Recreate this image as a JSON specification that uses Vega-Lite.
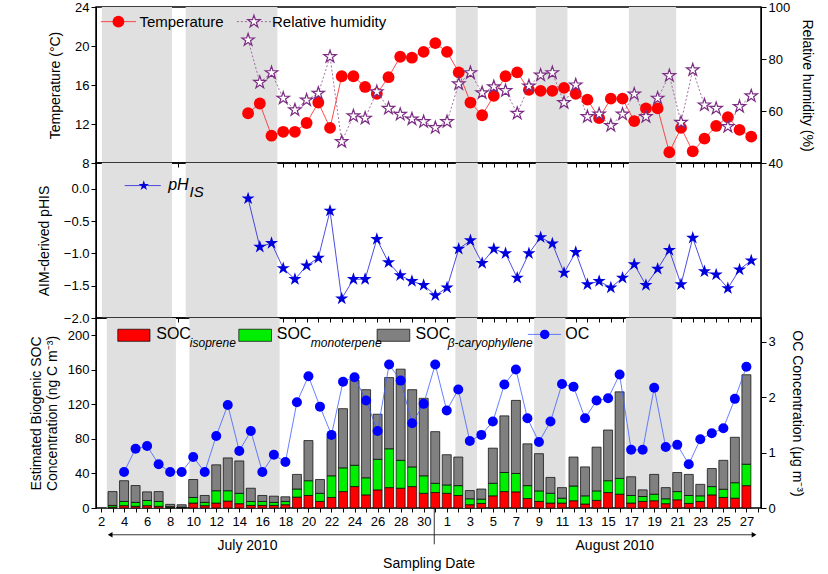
{
  "$schema": "https://vega.github.io/schema/vega-lite/v6.json",
  "background": "white",
  "padding": {"left": 28, "top": 0, "right": 5, "bottom": 0},
  "spacing": 0,
  "bounds": "flush",
  "config": {
    "font": "Liberation Sans",
    "view": {"stroke": "black", "strokeWidth": 1.5},
    "axis": {"labelFontSize": 13, "titleFontSize": 14, "titleFontWeight": "normal", "labelColor": "black", "titleColor": "black", "domainColor": "black", "tickColor": "black", "grid": false, "labelFont": "Liberation Sans", "titleFont": "Liberation Sans", "labelOverlap": false}
  },
  "datasets": {
    "shade": [
      {"start": "2010-07-02T12:00Z", "end": "2010-07-08T12:00Z"},
      {"start": "2010-07-09T16:00Z", "end": "2010-07-17T12:00Z"},
      {"start": "2010-08-01T18:00Z", "end": "2010-08-03T15:00Z"},
      {"start": "2010-08-08T14:00Z", "end": "2010-08-11T07:00Z"},
      {"start": "2010-08-16T13:00Z", "end": "2010-08-20T14:00Z"}
    ],
    "main": [
      {"date": "2010-07-03", "iso": 1, "mono": 2, "bc": 16, "oc": null, "temp": null, "rh": null, "ph": null},
      {"date": "2010-07-04", "iso": 2.7, "mono": 4.9, "bc": 24, "oc": 0.65, "temp": null, "rh": null, "ph": null},
      {"date": "2010-07-05", "iso": 2, "mono": 4.5, "bc": 19.5, "oc": 1.07, "temp": null, "rh": null, "ph": null},
      {"date": "2010-07-06", "iso": 2.7, "mono": 6, "bc": 10, "oc": 1.12, "temp": null, "rh": null, "ph": null},
      {"date": "2010-07-07", "iso": 2, "mono": 5.6, "bc": 11.4, "oc": 0.79, "temp": null, "rh": null, "ph": null},
      {"date": "2010-07-08", "iso": 0.8, "mono": 0.7, "bc": 2.7, "oc": 0.65, "temp": null, "rh": null, "ph": null},
      {"date": "2010-07-09", "iso": 0.5, "mono": 0.5, "bc": 2.8, "oc": 0.65, "temp": null, "rh": null, "ph": null},
      {"date": "2010-07-10", "iso": 5.7, "mono": 6.5, "bc": 20.8, "oc": 0.92, "temp": null, "rh": null, "ph": null},
      {"date": "2010-07-11", "iso": 2.7, "mono": 3.8, "bc": 8, "oc": 0.65, "temp": null, "rh": null, "ph": null},
      {"date": "2010-07-12", "iso": 5.7, "mono": 14.3, "bc": 30, "oc": 1.30, "temp": null, "rh": null, "ph": null},
      {"date": "2010-07-13", "iso": 8, "mono": 12, "bc": 38, "oc": 1.86, "temp": null, "rh": null, "ph": null},
      {"date": "2010-07-14", "iso": 5, "mono": 12, "bc": 37.5, "oc": 1.03, "temp": null, "rh": null, "ph": null},
      {"date": "2010-07-15", "iso": 3, "mono": 4.6, "bc": 15.3, "oc": 1.39, "temp": 13.1, "rh": 87.3, "ph": -0.15},
      {"date": "2010-07-16", "iso": 3, "mono": 4.6, "bc": 6.9, "oc": 0.65, "temp": 14.1, "rh": 71.0, "ph": -0.90},
      {"date": "2010-07-17", "iso": 3, "mono": 3.5, "bc": 7.2, "oc": 0.96, "temp": 10.8, "rh": 74.7, "ph": -0.84},
      {"date": "2010-07-18", "iso": 3.8, "mono": 3.8, "bc": 5.4, "oc": 0.83, "temp": 11.2, "rh": 64.9, "ph": -1.23},
      {"date": "2010-07-19", "iso": 12.6, "mono": 9.4, "bc": 16.9, "oc": 1.91, "temp": 11.2, "rh": 60.4, "ph": -1.40},
      {"date": "2010-07-20", "iso": 14.5, "mono": 17.1, "bc": 46.5, "oc": 2.38, "temp": 12.1, "rh": 64.2, "ph": -1.19},
      {"date": "2010-07-21", "iso": 7.6, "mono": 9.4, "bc": 16, "oc": 1.83, "temp": 14.2, "rh": 66.8, "ph": -1.07},
      {"date": "2010-07-22", "iso": 12.2, "mono": 25.1, "bc": 45.4, "oc": 1.32, "temp": 11.6, "rh": 80.9, "ph": -0.34},
      {"date": "2010-07-23", "iso": 19, "mono": 27.5, "bc": 68.5, "oc": 2.28, "temp": 16.9, "rh": 48.2, "ph": -1.70},
      {"date": "2010-07-24", "iso": 24.8, "mono": 24.7, "bc": 98.3, "oc": 2.36, "temp": 16.9, "rh": 58.1, "ph": -1.40},
      {"date": "2010-07-25", "iso": 15.2, "mono": 19.8, "bc": 102, "oc": 1.94, "temp": 15.8, "rh": 57.2, "ph": -1.40},
      {"date": "2010-07-26", "iso": 21, "mono": 35.4, "bc": 52.2, "oc": 1.39, "temp": 15.1, "rh": 67.4, "ph": -0.78},
      {"date": "2010-07-27", "iso": 23.6, "mono": 45, "bc": 82.4, "oc": 2.59, "temp": 16.8, "rh": 61.0, "ph": -1.14},
      {"date": "2010-07-28", "iso": 22.9, "mono": 32.3, "bc": 105.6, "oc": 2.30, "temp": 18.9, "rh": 58.7, "ph": -1.34},
      {"date": "2010-07-29", "iso": 24.8, "mono": 22.8, "bc": 89.4, "oc": 1.53, "temp": 18.8, "rh": 56.9, "ph": -1.43},
      {"date": "2010-07-30", "iso": 17, "mono": 20.3, "bc": 89.7, "oc": 1.88, "temp": 19.4, "rh": 55.9, "ph": -1.49},
      {"date": "2010-07-31", "iso": 17.9, "mono": 10.7, "bc": 59.8, "oc": 2.59, "temp": 20.3, "rh": 53.6, "ph": -1.65},
      {"date": "2010-08-01", "iso": 17, "mono": 9.7, "bc": 35, "oc": 1.76, "temp": 19.4, "rh": 55.9, "ph": -1.53},
      {"date": "2010-08-02", "iso": 14.5, "mono": 11.4, "bc": 33.1, "oc": 2.14, "temp": 17.3, "rh": 70.4, "ph": -0.93},
      {"date": "2010-08-03", "iso": 3.8, "mono": 6.9, "bc": 9.5, "oc": 1.21, "temp": 14.2, "rh": 74.7, "ph": -0.80},
      {"date": "2010-08-04", "iso": 5.3, "mono": 5, "bc": 11.7, "oc": 1.32, "temp": 12.9, "rh": 67.0, "ph": -1.15},
      {"date": "2010-08-05", "iso": 14.1, "mono": 14.5, "bc": 40.7, "oc": 1.56, "temp": 14.9, "rh": 69.3, "ph": -0.93},
      {"date": "2010-08-06", "iso": 19, "mono": 22.1, "bc": 65.6, "oc": 2.23, "temp": 16.9, "rh": 67.8, "ph": -1.0},
      {"date": "2010-08-07", "iso": 18.7, "mono": 21.3, "bc": 84.6, "oc": 2.50, "temp": 17.3, "rh": 59.1, "ph": -1.38},
      {"date": "2010-08-08", "iso": 11, "mono": 14.9, "bc": 48.4, "oc": 1.62, "temp": 15.5, "rh": 69.6, "ph": -1.0},
      {"date": "2010-08-09", "iso": 7.6, "mono": 12.2, "bc": 43.1, "oc": 1.19, "temp": 15.4, "rh": 73.8, "ph": -0.75},
      {"date": "2010-08-10", "iso": 5.7, "mono": 11.4, "bc": 18.3, "oc": 1.56, "temp": 15.4, "rh": 74.7, "ph": -0.85},
      {"date": "2010-08-11", "iso": 5.7, "mono": 5.7, "bc": 12.2, "oc": 2.24, "temp": 15.7, "rh": 63.2, "ph": -1.30},
      {"date": "2010-08-12", "iso": 8.4, "mono": 17.1, "bc": 33.5, "oc": 2.19, "temp": 15.1, "rh": 70.0, "ph": -0.98},
      {"date": "2010-08-13", "iso": 4.6, "mono": 9.5, "bc": 33.5, "oc": 1.62, "temp": 14.5, "rh": 57.8, "ph": -1.48},
      {"date": "2010-08-14", "iso": 8.8, "mono": 11, "bc": 50.7, "oc": 1.94, "temp": 12.6, "rh": 58.8, "ph": -1.43},
      {"date": "2010-08-15", "iso": 17.9, "mono": 13.7, "bc": 58.7, "oc": 1.98, "temp": 14.6, "rh": 54.4, "ph": -1.53},
      {"date": "2010-08-16", "iso": 16, "mono": 18.3, "bc": 100.2, "oc": 2.41, "temp": 14.6, "rh": 58.8, "ph": -1.38},
      {"date": "2010-08-17", "iso": 5.7, "mono": 8.8, "bc": 21.7, "oc": 1.05, "temp": 12.3, "rh": 66.5, "ph": -1.17},
      {"date": "2010-08-18", "iso": 7.6, "mono": 5.7, "bc": 7.7, "oc": 1.05, "temp": 13.6, "rh": 57.8, "ph": -1.49},
      {"date": "2010-08-19", "iso": 8.4, "mono": 7.6, "bc": 22.9, "oc": 2.17, "temp": 13.6, "rh": 64.9, "ph": -1.24},
      {"date": "2010-08-20", "iso": 5, "mono": 5.7, "bc": 12.9, "oc": 1.10, "temp": 9.1, "rh": 73.6, "ph": -0.95},
      {"date": "2010-08-21", "iso": 9.5, "mono": 9.5, "bc": 22.1, "oc": 1.14, "temp": 11.6, "rh": 55.6, "ph": -1.48},
      {"date": "2010-08-22", "iso": 5.3, "mono": 9.2, "bc": 24.4, "oc": 0.79, "temp": 9.2, "rh": 75.8, "ph": -0.76},
      {"date": "2010-08-23", "iso": 7.6, "mono": 6.5, "bc": 13.3, "oc": 1.24, "temp": 10.5, "rh": 62.3, "ph": -1.28},
      {"date": "2010-08-24", "iso": 15.2, "mono": 9.6, "bc": 20.9, "oc": 1.35, "temp": 11.8, "rh": 61.0, "ph": -1.33},
      {"date": "2010-08-25", "iso": 12.2, "mono": 9.5, "bc": 33.5, "oc": 1.44, "temp": 12.7, "rh": 54.0, "ph": -1.54},
      {"date": "2010-08-26", "iso": 11.4, "mono": 17.9, "bc": 52.6, "oc": 1.97, "temp": 11.4, "rh": 61.7, "ph": -1.25},
      {"date": "2010-08-27", "iso": 25.9, "mono": 24.8, "bc": 103.6, "oc": 2.55, "temp": 10.7, "rh": 65.8, "ph": -1.11}
    ]
  },
  "vconcat": [
    {
      "width": 665,
      "height": 156,
      "layer": [
        {
          "layer": [
            {
              "data": {"name": "shade"},
              "mark": {"type": "rect", "color": "#e0e0e0"},
              "encoding": {
                "x": {"field": "start", "type": "temporal", "title": null,
                  "scale": {"type": "utc", "domain": [{"year": 2010, "month": 7, "date": 2, "utc": true}, {"year": 2010, "month": 8, "date": 27, "hours": 20, "utc": true}]},
                  "axis": {"labels": false, "tickCount": {"interval": "day", "step": 1}, "tickSize": 4, "domain": false}},
                "x2": {"field": "end"}
              }
            },
            {
              "data": {"name": "main"},
              "mark": {"type": "line", "color": "#ff2020", "strokeWidth": 0.8},
              "encoding": {
                "x": {"field": "date", "type": "temporal", "title": null},
                "y": {"field": "temp", "type": "quantitative", "title": "Temperature (°C)",
                  "scale": {"domain": [8, 24]},
                  "axis": {"values": [8, 12, 16, 20, 24], "tickSize": 5, "titlePadding": 12}}
              }
            },
            {
              "data": {"name": "main"},
              "mark": {"type": "point", "shape": "circle", "filled": true, "color": "#ff0000", "size": 140, "opacity": 1},
              "encoding": {
                "x": {"field": "date", "type": "temporal", "title": null},
                "y": {"field": "temp", "type": "quantitative", "axis": {"values": [8, 12, 16, 20, 24]}}
              }
            },
            {
              "data": {"values": [{}]},
              "mark": {"type": "rule", "color": "#ff2020", "strokeWidth": 0.8},
              "encoding": {
                "x": {"datum": {"year": 2010, "month": 7, "date": 2, "hours": 10, "utc": true}, "type": "temporal"},
                "x2": {"datum": {"year": 2010, "month": 7, "date": 5, "hours": 10, "utc": true}},
                "y": {"datum": 22.5, "type": "quantitative", "axis": {"values": [8, 12, 16, 20, 24]}}
              }
            },
            {
              "data": {"values": [{}]},
              "mark": {"type": "point", "shape": "circle", "filled": true, "color": "#ff0000", "size": 140, "opacity": 1},
              "encoding": {
                "x": {"datum": {"year": 2010, "month": 7, "date": 3, "hours": 22, "utc": true}, "type": "temporal"},
                "y": {"datum": 22.5, "type": "quantitative", "axis": {"values": [8, 12, 16, 20, 24]}}
              }
            },
            {
              "data": {"values": [{}]},
              "mark": {"type": "text", "text": "Temperature", "align": "left", "baseline": "middle", "fontSize": 15},
              "encoding": {
                "x": {"datum": {"year": 2010, "month": 7, "date": 5, "hours": 17, "utc": true}, "type": "temporal"},
                "y": {"datum": 22.5, "type": "quantitative", "axis": {"values": [8, 12, 16, 20, 24]}}
              }
            },
            {
              "data": {"values": [{}]},
              "mark": {"type": "rule", "color": "#8b4a8b", "strokeWidth": 0.8, "strokeDash": [2, 2]},
              "encoding": {
                "x": {"datum": {"year": 2010, "month": 7, "date": 14, "hours": 1, "utc": true}, "type": "temporal"},
                "x2": {"datum": {"year": 2010, "month": 7, "date": 16, "hours": 23, "utc": true}},
                "y": {"datum": 22.5, "type": "quantitative", "axis": {"values": [8, 12, 16, 20, 24]}}
              }
            },
            {
              "data": {"values": [{}]},
              "mark": {"type": "point", "shape": "M0,-1L0.2245,-0.309L0.951,-0.309L0.363,0.118L0.588,0.809L0,0.382L-0.588,0.809L-0.363,0.118L-0.951,-0.309L-0.2245,-0.309Z", "filled": true, "fill": "white", "stroke": "#7b2c83", "strokeWidth": 1.2, "size": 170, "opacity": 1},
              "encoding": {
                "x": {"datum": {"year": 2010, "month": 7, "date": 15, "hours": 12, "utc": true}, "type": "temporal"},
                "y": {"datum": 22.5, "type": "quantitative", "axis": {"values": [8, 12, 16, 20, 24]}}
              }
            },
            {
              "data": {"values": [{}]},
              "mark": {"type": "text", "text": "Relative humidity", "align": "left", "baseline": "middle", "fontSize": 15},
              "encoding": {
                "x": {"datum": {"year": 2010, "month": 7, "date": 17, "hours": 1, "utc": true}, "type": "temporal"},
                "y": {"datum": 22.5, "type": "quantitative", "axis": {"values": [8, 12, 16, 20, 24]}}
              }
            }
          ]
        },
        {
          "data": {"name": "main"},
          "encoding": {
            "x": {"field": "date", "type": "temporal", "title": null},
            "y": {"field": "rh", "type": "quantitative", "title": "Relative humidity (%)",
              "scale": {"domain": [40, 100]},
              "axis": {"orient": "right", "values": [40, 60, 80, 100], "tickSize": 5, "titlePadding": 10}}
          },
          "layer": [
            {"mark": {"type": "line", "color": "#8b4a8b", "strokeWidth": 0.8, "strokeDash": [2, 2]}},
            {"mark": {"type": "point", "shape": "M0,-1L0.2245,-0.309L0.951,-0.309L0.363,0.118L0.588,0.809L0,0.382L-0.588,0.809L-0.363,0.118L-0.951,-0.309L-0.2245,-0.309Z", "filled": true, "fill": "white", "stroke": "#7b2c83", "strokeWidth": 1.2, "size": 170, "opacity": 1}}
          ]
        }
      ],
      "resolve": {"scale": {"y": "independent"}}
    },
    {
      "width": 665,
      "height": 155,
      "layer": [
        {
          "data": {"name": "shade"},
          "mark": {"type": "rect", "color": "#e0e0e0"},
          "encoding": {
            "x": {"field": "start", "type": "temporal", "title": null,
              "scale": {"type": "utc", "domain": [{"year": 2010, "month": 7, "date": 2, "utc": true}, {"year": 2010, "month": 8, "date": 27, "hours": 20, "utc": true}]},
              "axis": {"labels": false, "tickCount": {"interval": "day", "step": 1}, "tickSize": 4, "domain": false}},
            "x2": {"field": "end"}
          }
        },
        {
          "data": {"name": "main"},
          "mark": {"type": "line", "color": "#2020dd", "strokeWidth": 0.8},
          "encoding": {
            "x": {"field": "date", "type": "temporal", "title": null},
            "y": {"field": "ph", "type": "quantitative", "title": "AIM-derived pHIS",
              "scale": {"domain": [-2, 0.28]},
              "axis": {"values": [-2, -1.5, -1, -0.5, 0], "format": ".1f", "tickSize": 5, "titlePadding": 12}}
          }
        },
        {
          "data": {"name": "main"},
          "mark": {"type": "point", "shape": "M0,-1L0.2245,-0.309L0.951,-0.309L0.363,0.118L0.588,0.809L0,0.382L-0.588,0.809L-0.363,0.118L-0.951,-0.309L-0.2245,-0.309Z", "filled": true, "color": "#0000dd", "size": 190, "opacity": 1},
          "encoding": {
            "x": {"field": "date", "type": "temporal", "title": null},
            "y": {"field": "ph", "type": "quantitative", "axis": {"values": [-2, -1.5, -1, -0.5, 0]}}
          }
        },
        {
          "data": {"values": [{}]},
          "mark": {"type": "rule", "color": "#2020dd", "strokeWidth": 0.8},
          "encoding": {
            "x": {"datum": {"year": 2010, "month": 7, "date": 4, "hours": 11, "utc": true}, "type": "temporal"},
            "x2": {"datum": {"year": 2010, "month": 7, "date": 7, "hours": 13, "utc": true}},
            "y": {"datum": 0.05, "type": "quantitative", "axis": {"values": [-2, -1.5, -1, -0.5, 0]}}
          }
        },
        {
          "data": {"values": [{}]},
          "mark": {"type": "point", "shape": "M0,-1L0.2245,-0.309L0.951,-0.309L0.363,0.118L0.588,0.809L0,0.382L-0.588,0.809L-0.363,0.118L-0.951,-0.309L-0.2245,-0.309Z", "filled": true, "color": "#0000dd", "size": 120, "opacity": 1},
          "encoding": {
            "x": {"datum": {"year": 2010, "month": 7, "date": 6, "hours": 2, "utc": true}, "type": "temporal"},
            "y": {"datum": 0.05, "type": "quantitative", "axis": {"values": [-2, -1.5, -1, -0.5, 0]}}
          }
        },
        {
          "data": {"values": [{}]},
          "mark": {"type": "text", "text": "pH", "align": "left", "baseline": "middle", "fontSize": 16, "fontStyle": "italic"},
          "encoding": {
            "x": {"datum": {"year": 2010, "month": 7, "date": 8, "hours": 4, "utc": true}, "type": "temporal"},
            "y": {"datum": 0.06, "type": "quantitative", "axis": {"values": [-2, -1.5, -1, -0.5, 0]}}
          }
        },
        {
          "data": {"values": [{}]},
          "mark": {"type": "text", "text": "IS", "align": "left", "baseline": "middle", "fontSize": 15, "fontStyle": "italic"},
          "encoding": {
            "x": {"datum": {"year": 2010, "month": 7, "date": 10, "hours": 0, "utc": true}, "type": "temporal"},
            "y": {"datum": -0.05, "type": "quantitative", "axis": {"values": [-2, -1.5, -1, -0.5, 0]}}
          }
        }
      ]
    },
    {
      "width": 665,
      "height": 190,
      "layer": [
        {
          "layer": [
            {
              "data": {"name": "shade"},
              "mark": {"type": "rect", "color": "#e0e0e0"},
              "encoding": {
                "x": {"field": "start", "type": "temporal", "title": "Sampling Date",
                  "scale": {"type": "utc", "domain": [{"year": 2010, "month": 7, "date": 2, "utc": true}, {"year": 2010, "month": 8, "date": 27, "hours": 20, "utc": true}]},
                  "axis": {"tickCount": {"interval": "day", "step": 1}, "tickSize": 4, "domain": false, "labelFlush": false, "labelBound": false, "labelPadding": 3, "titlePadding": 28,
                    "labelExpr": "(utcmonth(datum.value) == 6 && utcdate(datum.value) % 2 == 0) || (utcmonth(datum.value) == 7 && utcdate(datum.value) % 2 == 1) ? '' + utcdate(datum.value) : ''"}},
                "x2": {"field": "end"}
              }
            },
            {
              "data": {"name": "main"},
              "transform": [
                {"fold": ["iso", "mono", "bc"], "as": ["species", "conc"]},
                {"calculate": "indexof(['iso', 'mono', 'bc'], datum.species)", "as": "stackOrder"}
              ],
              "mark": {"type": "bar", "size": 9, "stroke": "black", "strokeWidth": 0.7},
              "encoding": {
                "x": {"field": "date", "type": "temporal", "title": "Sampling Date"},
                "y": {"field": "conc", "type": "quantitative", "stack": "zero",
                  "title": ["Estimated Biogenic SOC", "Concentration (ng C m⁻³)"],
                  "scale": {"domain": [0, 217]},
                  "axis": {"values": [0, 40, 80, 120, 160, 200], "tickSize": 5, "titlePadding": 8}},
                "color": {"field": "species", "type": "nominal", "legend": null,
                  "scale": {"domain": ["iso", "mono", "bc"], "range": ["#ff0000", "#00ee00", "#808080"]}},
                "order": {"field": "stackOrder"}
              }
            },
            {
              "data": {"values": [
                {"species": "iso", "from": "2010-07-03T11:00Z", "to": "2010-07-06T06:00Z"},
                {"species": "mono", "from": "2010-07-13T23:00Z", "to": "2010-07-16T19:00Z"},
                {"species": "bc", "from": "2010-07-25T23:00Z", "to": "2010-07-28T19:00Z"}
              ]},
              "mark": {"type": "rect", "stroke": "black", "strokeWidth": 0.7},
              "encoding": {
                "x": {"field": "from", "type": "temporal"},
                "x2": {"field": "to"},
                "y": {"datum": 207, "type": "quantitative", "axis": {"values": [0, 40, 80, 120, 160, 200]}},
                "y2": {"datum": 193},
                "color": {"field": "species", "type": "nominal", "legend": null}
              }
            },
            {
              "data": {"values": [
                {"label": "SOC", "day": "2010-07-06T19:00Z"},
                {"label": "SOC", "day": "2010-07-17T06:00Z"},
                {"label": "SOC", "day": "2010-07-29T07:00Z"},
                {"label": "OC", "day": "2010-08-11T07:00Z"}
              ]},
              "mark": {"type": "text", "align": "left", "baseline": "middle", "fontSize": 16},
              "encoding": {
                "x": {"field": "day", "type": "temporal"},
                "y": {"datum": 201, "type": "quantitative", "axis": {"values": [0, 40, 80, 120, 160, 200]}},
                "text": {"field": "label"}
              }
            },
            {
              "data": {"values": [
                {"label": "isoprene", "day": "2010-07-09T17:00Z"},
                {"label": "monoterpene", "day": "2010-07-20T05:00Z"},
                {"label": "β-caryophyllene", "day": "2010-08-01T02:00Z"}
              ]},
              "mark": {"type": "text", "align": "left", "baseline": "middle", "fontSize": 12, "fontStyle": "italic"},
              "encoding": {
                "x": {"field": "day", "type": "temporal"},
                "y": {"datum": 191, "type": "quantitative", "axis": {"values": [0, 40, 80, 120, 160, 200]}},
                "text": {"field": "label"}
              }
            },
            {
              "data": {"values": [{}]},
              "mark": {"type": "rule", "color": "#4060ff", "strokeWidth": 0.8},
              "encoding": {
                "x": {"datum": {"year": 2010, "month": 8, "date": 8, "hours": 1, "utc": true}, "type": "temporal"},
                "x2": {"datum": {"year": 2010, "month": 8, "date": 10, "hours": 22, "utc": true}},
                "y": {"datum": 201, "type": "quantitative", "axis": {"values": [0, 40, 80, 120, 160, 200]}}
              }
            },
            {
              "data": {"values": [{}]},
              "mark": {"type": "point", "shape": "circle", "filled": true, "color": "#0000ff", "size": 90, "opacity": 1},
              "encoding": {
                "x": {"datum": {"year": 2010, "month": 8, "date": 9, "hours": 12, "utc": true}, "type": "temporal"},
                "y": {"datum": 201, "type": "quantitative", "axis": {"values": [0, 40, 80, 120, 160, 200]}}
              }
            },
            {
              "data": {"values": [
                {"from": "2010-07-02T19:00Z", "to": "2010-07-30T22:00Z"},
                {"from": "2010-07-30T22:00Z", "to": "2010-08-27T16:00Z"}
              ]},
              "mark": {"type": "rule", "color": "black", "strokeWidth": 0.8},
              "encoding": {
                "x": {"field": "from", "type": "temporal"},
                "x2": {"field": "to"},
                "y": {"datum": -31, "type": "quantitative", "axis": {"values": [0, 40, 80, 120, 160, 200]}}
              }
            },
            {
              "data": {"values": [{}]},
              "mark": {"type": "rule", "color": "black", "strokeWidth": 0.8},
              "encoding": {
                "x": {"datum": {"year": 2010, "month": 7, "date": 30, "hours": 22, "utc": true}, "type": "temporal"},
                "y": {"datum": 0, "type": "quantitative", "axis": {"values": [0, 40, 80, 120, 160, 200]}},
                "y2": {"datum": -42}
              }
            },
            {
              "data": {"values": [{"at": "2010-07-02T19:00Z", "tip": "triangle-left"}, {"at": "2010-08-27T16:00Z", "tip": "triangle-right"}]},
              "mark": {"type": "point", "filled": true, "color": "black", "size": 30, "opacity": 1},
              "encoding": {
                "x": {"field": "at", "type": "temporal"},
                "y": {"datum": -31, "type": "quantitative", "axis": {"values": [0, 40, 80, 120, 160, 200]}},
                "shape": {"field": "tip", "type": "nominal", "scale": null, "legend": null}
              }
            },
            {
              "data": {"values": [{"label": "July 2010", "mid": "2010-07-14T17:00Z"}, {"label": "August 2010", "mid": "2010-08-15T14:00Z"}]},
              "mark": {"type": "text", "align": "center", "baseline": "middle", "fontSize": 14},
              "encoding": {
                "x": {"field": "mid", "type": "temporal"},
                "y": {"datum": -44, "type": "quantitative", "axis": {"values": [0, 40, 80, 120, 160, 200]}},
                "text": {"field": "label"}
              }
            }
          ]
        },
        {
          "data": {"name": "main"},
          "encoding": {
            "x": {"field": "date", "type": "temporal", "title": "Sampling Date"},
            "y": {"field": "oc", "type": "quantitative", "title": "OC  Concentration (μg m⁻³)",
              "scale": {"domain": [0, 3.43]},
              "axis": {"orient": "right", "values": [0, 1, 2, 3], "tickSize": 5, "titlePadding": 14}}
          },
          "layer": [
            {"mark": {"type": "line", "color": "#4060ff", "strokeWidth": 0.8}},
            {"mark": {"type": "point", "shape": "circle", "filled": true, "color": "#0000ff", "size": 100, "opacity": 1}}
          ]
        }
      ],
      "resolve": {"scale": {"y": "independent"}}
    }
  ]
}
